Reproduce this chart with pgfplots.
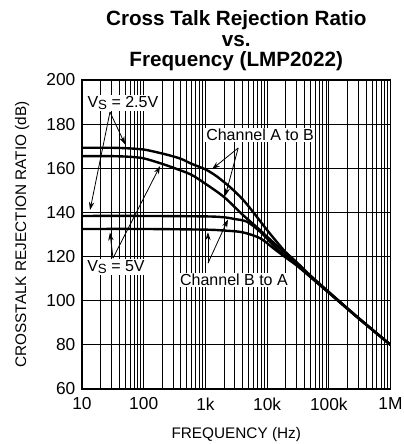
\documentclass[border=0pt]{standalone}
\usepackage{pgfplots}
\pgfplotsset{compat=1.18}
\usepackage{fontspec}
\setmainfont{Liberation Sans}
\usetikzlibrary{arrows.meta}
\newcommand{\VS}{V{\fontsize{10}{10}\selectfont\raisebox{-0.3ex}{S}}}
\begin{document}
\begin{tikzpicture}
\useasboundingbox (-61.5pt,-41.25pt) rectangle (241.5pt,291.75pt);
\begin{axis}[
  at={(0,0)}, anchor=south west,
  scale only axis, width=231.4pt, height=231.75pt,
  xmode=log, xmin=10, xmax=1e6, ymin=60, ymax=200,
  xtick={10,100,1000,10000,100000,1000000},
  xticklabels={10,100,1k,10k,100k,1M},
  ytick={60,80,100,120,140,160,180,200},
  yticklabels={60,80,100,120,140,160,180,200},
  /pgf/number format/assume math mode=true,
  grid=both,
  major grid style={black, line width=0.6pt},
  minor grid style={black, line width=0.6pt},
  tick style={draw=none},
  axis line style={line width=1pt},
  ticklabel style={font=\fontsize{13}{14}\selectfont},
  xticklabel style={yshift=-3pt},
  yticklabel style={xshift=-1.5pt},
  label style={font=\fontsize{11.5}{14}\selectfont},
  xlabel={FREQUENCY (Hz)},
  ylabel={CROSSTALK REJECTION RATIO (dB)},
  xlabel style={yshift=-6pt},
  ylabel style={yshift=6pt},
  title={Cross Talk Rejection Ratio\\vs.\\Frequency (LMP2022)},
  title style={font=\bfseries\fontsize{15.5}{15.2}\selectfont, align=center, yshift=-2.5pt},
]
% Channel A to B, VS = 2.5V
\addplot[black, line width=1.8pt, smooth] coordinates {
(10,169.3)(30,169.3)(60,169)(100,168.5)(150,167.5)(250,166)(400,164.3)(600,162)(1000,159.5)(1500,156.5)(2500,151.5)(4000,146)(6000,140)(10000,132)(15000,126)(20000,122)(30000,117.5)(50000,111.5)(100000,104)(300000,92.3)(1000000,80)};
% Channel A to B, VS = 5V
\addplot[black, line width=1.8pt, smooth] coordinates {
(10,165.5)(30,165.5)(60,165.2)(100,164.5)(200,162)(400,159)(600,157)(1000,153)(2000,147)(4000,139)(7000,133)(10000,129)(15000,124.5)(20000,121.5)(30000,117)(50000,111)(100000,103.7)(300000,92.2)(1000000,80)};
% Channel B to A, VS = 2.5V
\addplot[black, line width=1.8pt, smooth] coordinates {
(10,138.4)(100,138.4)(1000,138.2)(2000,137.8)(3000,137)(4700,135.8)(7700,131.3)(12600,125.2)(18000,121.2)(30000,116.5)(50000,111)(100000,103.7)(300000,92.2)(1000000,80)};
% Channel B to A, VS = 5V
\addplot[black, line width=1.8pt, smooth] coordinates {
(10,132.5)(100,132.5)(1000,132.2)(2000,131.8)(4000,131)(7700,128.3)(12600,123.8)(18000,120.5)(30000,116)(50000,110.8)(100000,103.6)(300000,92.1)(1000000,80)};
% annotations
\tikzset{arr/.style={-{Stealth[length=6pt,width=4pt]}, line width=0.6pt}}
\draw[arr] (axis cs:28.4,185.5) -- (axis cs:50,170.8);
\draw[arr] (axis cs:28.4,185.5) -- (axis cs:13.5,141.1);
\draw[arr] (axis cs:31.8,119.3) -- (axis cs:28.4,130.9);
\draw[arr] (axis cs:31.8,119.3) -- (axis cs:184,161);
\draw[arr] (axis cs:3400,169.2) -- (axis cs:1280,159.6);
\draw[arr] (axis cs:3400,169.2) -- (axis cs:2100,147.5);
\draw[arr] (axis cs:1100,117) -- (axis cs:1100,131);
\draw[arr] (axis cs:1100,117) -- (axis cs:2320,136.8);
\node[fill=white, inner sep=1pt, font=\fontsize{12}{14}\selectfont] at (axis cs:46,189.6) {\VS\ = 2.5V};
\node[fill=white, inner sep=1pt, font=\fontsize{12}{14}\selectfont] at (axis cs:35.5,115.3) {\VS\ = 5V};
\node[fill=white, inner sep=1pt, font=\fontsize{12}{14}\selectfont] at (axis cs:7700,175) {Channel A to B};
\node[fill=white, inner sep=1pt, font=\fontsize{12}{14}\selectfont] at (axis cs:2900,109.4) {Channel B to A};
\end{axis}
\end{tikzpicture}
\end{document}
